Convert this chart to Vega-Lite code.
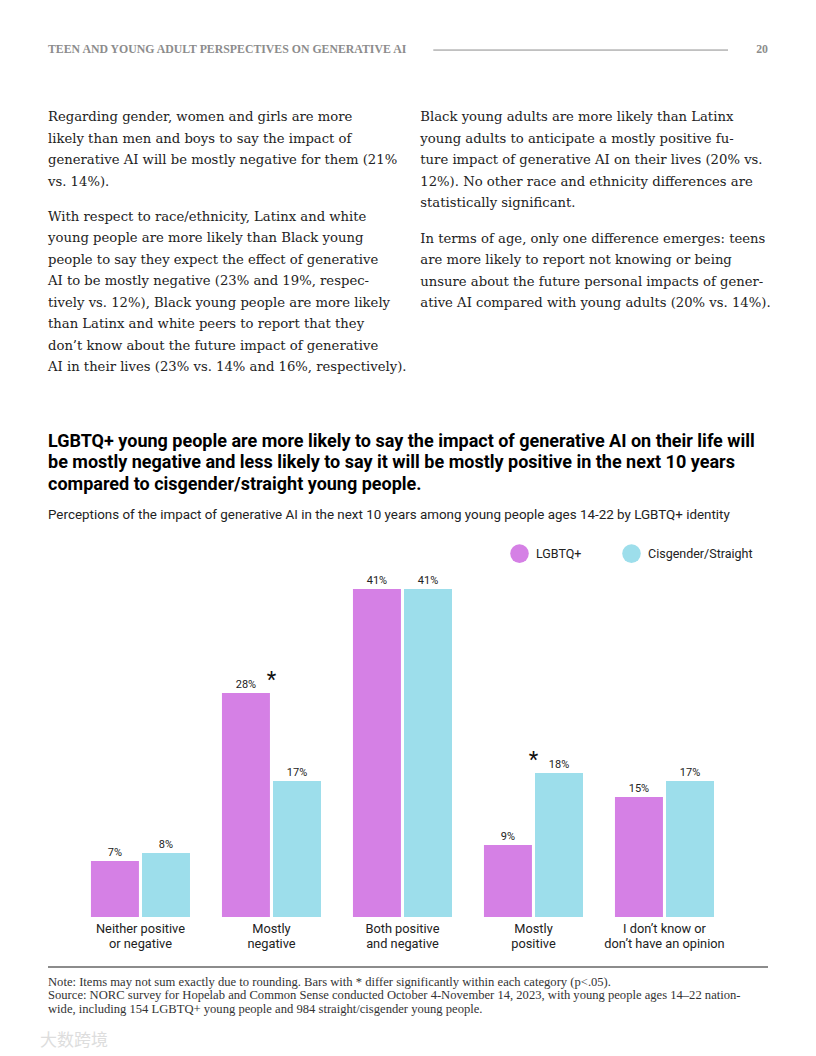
{
  "$schema": "https://vega.github.io/schema/vega-lite/v6.json",
  "background": "white",
  "padding": {"left": 40, "top": 0, "right": 0, "bottom": 12},
  "spacing": 16,
  "resolve": {"scale": {"color": "independent"}, "legend": {"color": "independent"}},
  "config": {"view": {"stroke": null}, "font": "Roboto"},
  "vconcat": [
    {
      "width": 720,
      "height": 416,
      "layer": [
        {
          "data": {"values": [{"col": "left", "line": -3.14, "text": "TEEN AND YOUNG ADULT PERSPECTIVES ON GENERATIVE AI"}]},
          "mark": {"type": "text", "align": "left", "baseline": "alphabetic", "font": "Liberation Serif", "fontSize": 11.8, "fontWeight": "bold", "color": "#8c8c8c"},
          "encoding": {
            "x": {"field": "col", "type": "nominal", "bandPosition": 0, "scale": {"type": "band", "domain": ["left", "right"], "paddingInner": 0.066, "paddingOuter": 0}, "axis": null},
            "y": {"field": "line", "type": "quantitative", "scale": {"domain": [-5.628, 13.721], "reverse": true, "nice": false, "zero": false}, "axis": null},
            "text": {"field": "text"}
          }
        },
        {
          "data": {"values": [{"col": "right", "line": -3.14, "text": "20"}]},
          "mark": {"type": "text", "align": "right", "baseline": "alphabetic", "font": "Liberation Serif", "fontSize": 11.8, "fontWeight": "bold", "color": "#8c8c8c"},
          "encoding": {
            "x": {"field": "col", "type": "nominal", "bandPosition": 1, "scale": {"type": "band", "domain": ["left", "right"], "paddingInner": 0.066, "paddingOuter": 0}, "axis": null},
            "y": {"field": "line", "type": "quantitative", "scale": {"domain": [-5.628, 13.721], "reverse": true, "nice": false, "zero": false}, "axis": null},
            "text": {"field": "text"}
          }
        },
        {
          "data": {"values": [{"col": "right", "line": -3.3}]},
          "mark": {"type": "rule", "color": "#8c8c8c", "strokeWidth": 1, "xOffset": 13, "x2Offset": -40},
          "encoding": {
            "x": {"field": "col", "type": "nominal", "bandPosition": 0, "scale": {"type": "band", "domain": ["left", "right"], "paddingInner": 0.066, "paddingOuter": 0}, "axis": null},
            "x2": {"field": "col", "bandPosition": 1},
            "y": {"field": "line", "type": "quantitative", "scale": {"domain": [-5.628, 13.721], "reverse": true, "nice": false, "zero": false}, "axis": null}
          }
        },
        {
          "data": {"values": [
            {"col": "left", "line": 0, "text": ["Regarding gender, women and girls are more", "likely than men and boys to say the impact of", "generative AI will be mostly negative for them (21%", "vs. 14%)."]},
            {"col": "left", "line": 4.651, "text": ["With respect to race/ethnicity, Latinx and white", "young people are more likely than Black young", "people to say they expect the effect of generative", "AI to be mostly negative (23% and 19%, respec-", "tively vs. 12%), Black young people are more likely", "than Latinx and white peers  to report that they", "don’t know about the future impact of generative", "AI in their lives (23% vs. 14% and 16%, respectively)."]},
            {"col": "right", "line": 0, "text": ["Black young adults are more likely than Latinx", "young adults to anticipate a mostly positive fu-", "ture impact of generative AI on their lives (20% vs.", "12%). No other race and ethnicity differences are", "statistically significant."]},
            {"col": "right", "line": 5.674, "text": ["In terms of age, only one difference emerges: teens", "are more likely to report not knowing or being", "unsure about the future personal impacts of gener-", "ative AI compared with young adults (20% vs. 14%)."]}
          ]},
          "mark": {"type": "text", "align": "left", "baseline": "alphabetic", "font": "DejaVu Serif", "fontSize": 13.2, "lineHeight": 21.5, "color": "#222222"},
          "encoding": {
            "x": {"field": "col", "type": "nominal", "bandPosition": 0, "scale": {"type": "band", "domain": ["left", "right"], "paddingInner": 0.066, "paddingOuter": 0}, "axis": null},
            "y": {"field": "line", "type": "quantitative", "scale": {"domain": [-5.628, 13.721], "reverse": true, "nice": false, "zero": false}, "axis": null},
            "text": {"field": "text"}
          }
        }
      ]
    },
    {
      "width": 720,
      "height": 388,
      "title": {
        "text": ["LGBTQ+ young people are more likely to say the impact of generative AI on their life will", "be mostly negative and less likely to say it will be mostly positive in the next 10 years", "compared to cisgender/straight young people."],
        "subtitle": "Perceptions of the impact of generative AI in the next 10 years among young people ages 14-22 by LGBTQ+ identity",
        "anchor": "start",
        "frame": "group",
        "font": "Roboto",
        "fontSize": 18,
        "fontWeight": "bold",
        "color": "#000000",
        "lineHeight": 21.5,
        "subtitleFont": "Roboto",
        "subtitleFontSize": 13.4,
        "subtitleColor": "#222222",
        "subtitlePadding": 14,
        "offset": 8
      },
      "data": {"values": [
        {"category": "Neither positive or negative", "group": "LGBTQ+", "value": 7},
        {"category": "Neither positive or negative", "group": "Cisgender/Straight", "value": 8},
        {"category": "Mostly negative", "group": "LGBTQ+", "value": 28},
        {"category": "Mostly negative", "group": "Cisgender/Straight", "value": 17},
        {"category": "Both positive and negative", "group": "LGBTQ+", "value": 41},
        {"category": "Both positive and negative", "group": "Cisgender/Straight", "value": 41},
        {"category": "Mostly positive", "group": "LGBTQ+", "value": 9},
        {"category": "Mostly positive", "group": "Cisgender/Straight", "value": 18},
        {"category": "I don't know or don't have an opinion", "group": "LGBTQ+", "value": 15},
        {"category": "I don't know or don't have an opinion", "group": "Cisgender/Straight", "value": 17}
      ]},
      "layer": [
        {
          "mark": {"type": "bar"},
          "encoding": {
            "x": {
              "field": "category", "type": "nominal",
              "sort": ["Neither positive or negative", "Mostly negative", "Both positive and negative", "Mostly positive", "I don't know or don't have an opinion"],
              "scale": {"paddingInner": 0.244, "paddingOuter": 0.37, "align": 0.443},
              "axis": {"title": null, "domain": false, "ticks": false, "labelAngle": 0, "labelFont": "Roboto", "labelFontSize": 12.8, "labelColor": "#222222", "labelPadding": 5, "labelLineHeight": 15,
                "labelExpr": "datum.label == 'Neither positive or negative' ? ['Neither positive', 'or negative'] : datum.label == 'Mostly negative' ? ['Mostly', 'negative'] : datum.label == 'Both positive and negative' ? ['Both positive', 'and negative'] : datum.label == 'Mostly positive' ? ['Mostly', 'positive'] : ['I don\u2019t know or', 'don\u2019t have an opinion']"}
            },
            "xOffset": {"field": "group", "type": "nominal", "sort": ["LGBTQ+", "Cisgender/Straight"], "scale": {"paddingInner": 0.06, "paddingOuter": 0}},
            "y": {"field": "value", "type": "quantitative", "scale": {"domain": [0, 48.5], "nice": false}, "axis": null},
            "color": {
              "field": "group", "type": "nominal",
              "scale": {"domain": ["LGBTQ+", "Cisgender/Straight"], "range": ["#D580E5", "#9DDEEB"]},
              "legend": {"title": null, "orient": "top-right", "offset": 15, "direction": "horizontal", "symbolType": "circle", "symbolSize": 346, "symbolStrokeWidth": 0, "symbolOpacity": 1, "labelFont": "Roboto", "labelFontSize": 12.5, "labelColor": "#222222", "labelOffset": 7, "columnPadding": 40, "padding": 0}
            }
          }
        },
        {
          "transform": [{"calculate": "datum.value + '%'", "as": "label"}],
          "mark": {"type": "text", "baseline": "alphabetic", "dy": -5.5, "font": "Roboto", "fontSize": 11, "color": "#222222"},
          "encoding": {
            "x": {"field": "category", "type": "nominal", "sort": ["Neither positive or negative", "Mostly negative", "Both positive and negative", "Mostly positive", "I don't know or don't have an opinion"]},
            "xOffset": {"field": "group", "type": "nominal", "sort": ["LGBTQ+", "Cisgender/Straight"]},
            "y": {"field": "value", "type": "quantitative"},
            "text": {"field": "label"}
          }
        },
        {
          "data": {"values": [
            {"category": "Mostly negative", "value": 28},
            {"category": "Mostly positive", "value": 18}
          ]},
          "mark": {"type": "text", "baseline": "alphabetic", "dy": -6, "font": "Roboto", "fontSize": 22, "color": "#111111"},
          "encoding": {
            "x": {"field": "category", "type": "nominal", "sort": ["Neither positive or negative", "Mostly negative", "Both positive and negative", "Mostly positive", "I don't know or don't have an opinion"]},
            "y": {"field": "value", "type": "quantitative"},
            "text": {"value": "*"}
          }
        }
      ]
    },
    {
      "width": 720,
      "height": 54,
      "layer": [
        {
          "data": {"values": [{"line": 0}]},
          "mark": {"type": "rule", "color": "#666666", "strokeWidth": 1.5},
          "encoding": {
            "y": {"field": "line", "type": "quantitative", "scale": {"domain": [0, 4], "reverse": true, "nice": false, "zero": false}, "axis": null}
          }
        },
        {
          "data": {"values": [
            {"line": 1, "text": "Note: Items may not sum exactly due to rounding. Bars with * differ significantly within each category (p<.05)."},
            {"line": 2, "text": "Source: NORC survey for Hopelab and Common Sense conducted October 4-November 14, 2023, with young people ages 14–22 nation-"},
            {"line": 3, "text": "wide, including 154 LGBTQ+ young people and 984 straight/cisgender young people."}
          ]},
          "mark": {"type": "text", "align": "left", "baseline": "middle", "dy": 1, "font": "Liberation Serif", "fontSize": 12.6, "color": "#333333"},
          "encoding": {
            "x": {"datum": 0, "type": "quantitative", "scale": {"domain": [0, 1]}, "axis": null},
            "y": {"field": "line", "type": "quantitative", "scale": {"domain": [0, 4], "reverse": true, "nice": false, "zero": false}, "axis": null},
            "text": {"field": "text"}
          }
        },
        {
          "data": {"values": [{"line": 5.48, "text": "大数跨境"}]},
          "mark": {"type": "text", "align": "left", "baseline": "middle", "dx": -8, "font": "Noto Sans CJK SC", "fontSize": 17, "color": "#dddddd"},
          "encoding": {
            "x": {"datum": 0, "type": "quantitative", "scale": {"domain": [0, 1]}, "axis": null},
            "y": {"field": "line", "type": "quantitative", "scale": {"domain": [0, 4], "reverse": true, "nice": false, "zero": false}, "axis": null},
            "text": {"field": "text"}
          }
        }
      ]
    }
  ]
}
